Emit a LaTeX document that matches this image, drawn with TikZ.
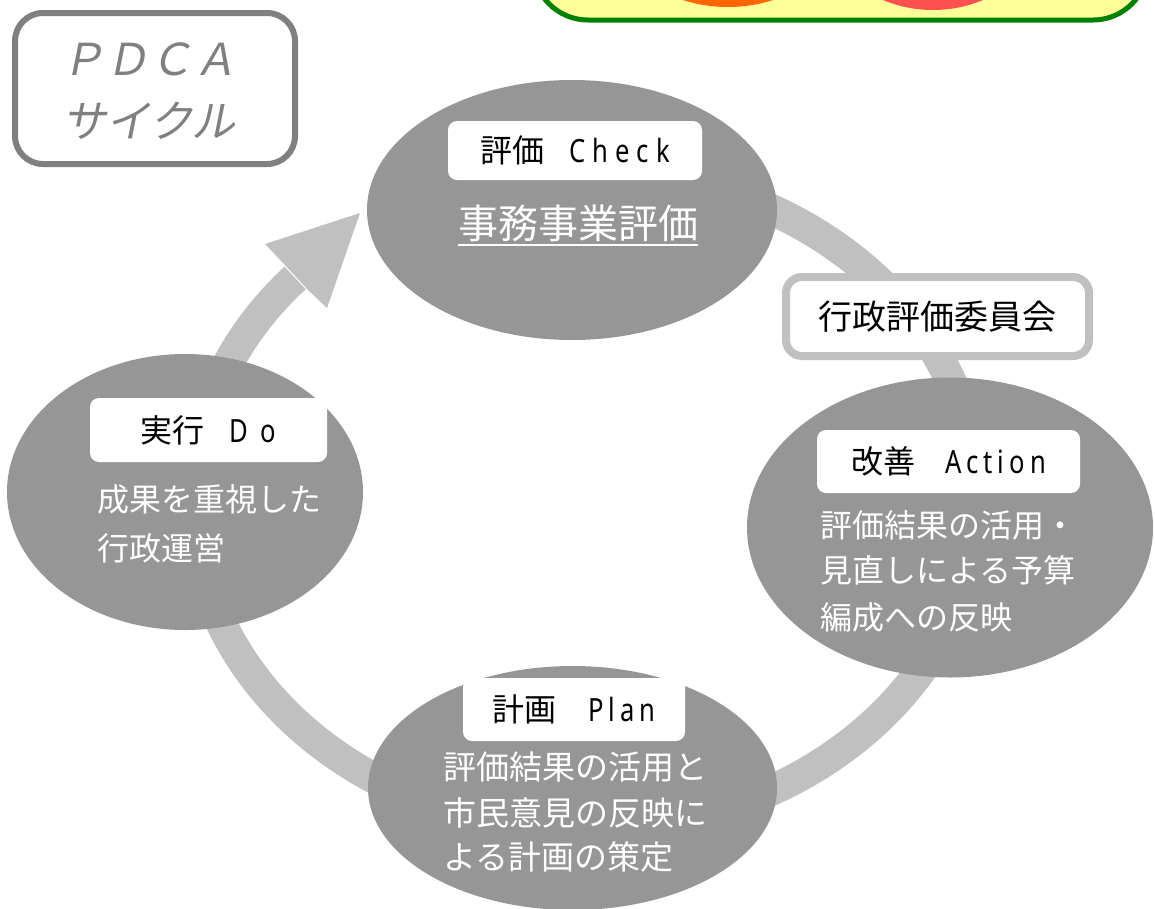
\documentclass[tikz,border=0pt]{standalone}
\usepackage{fontspec}
\usetikzlibrary{shapes.geometric}
\newfontfamily\jp{Noto Sans CJK JP}
\newfontfamily\jpit[FakeSlant=0.2]{Noto Sans CJK JP}
\newfontfamily\lat[FakeStretch=0.8]{Noto Sans}
\definecolor{ringc}{HTML}{C0C0C0}
\definecolor{blobc}{HTML}{969696}
\definecolor{pdcag}{HTML}{808080}
\definecolor{ylw}{HTML}{FFFF99}
\definecolor{grn}{HTML}{008000}
\definecolor{orng}{HTML}{FF6600}
\definecolor{rd}{HTML}{FF5050}
\newcommand\lgk[1]{\kern#1pt\relax}
\begin{document}
\begin{tikzpicture}[x=1pt,y=-1pt,
 blob/.style={ellipse, fill=blobc, draw=none, inner sep=0pt},
 lbl/.style={rectangle, rounded corners=9pt, fill=white, inner sep=0pt, font=\fontsize{32}{38}\selectfont\jp, text=black},
 body/.style={anchor=base west, inner sep=0pt, text=white, font=\fontsize{32}{38}\selectfont\jp},
 pdcatxt/.style={anchor=base, inner sep=0pt, text=pdcag, font=\fontsize{44}{50}\selectfont\jpit},
 ringline/.style={draw=ringc, line width=31pt},
]
\useasboundingbox (0,0) rectangle (1155,908);
\clip (0,0) rectangle (1155,908);

% top yellow box (cropped)
\node[draw=grn, line width=5pt, fill=ylw, rounded corners=55pt, minimum width=615pt, minimum height=140pt, inner sep=0pt] (topbox) at (840.5,-50) {};
\node[circle, fill=orng, minimum size=296pt, inner sep=0pt] (oc) at (728,-141) {};
\node[circle, fill=rd, minimum size=260pt, inner sep=0pt] (rc) at (933,-120) {};

% PDCA title box
\node[draw=pdcag, line width=6pt, rounded corners=28pt, fill=white, minimum width=280pt, minimum height=151pt, inner sep=0pt] (pdca) at (155,88.5) {};
\node[pdcatxt] (pdca1) at (149,75) {ＰＤＣＡ};
\node[pdcatxt] (pdca2) at (149,137) {サイクル};

% ring (elliptic arc, centre (585,500)) ending in an arrow
\coordinate (ringstart) at (653.1,175.0);
\draw[ringline] (ringstart) arc[start angle=80, end angle=-222.3, x radius=392pt, y radius=330pt] coordinate (ringend);
\fill[ringc] (286.5,266.6) -- (265,244) -- (360,213) -- (327,308) -- (307.5,289.4) -- cycle;

% committee box
\node[draw=ringc, line width=8pt, fill=white, rounded corners=16pt, minimum width=303pt, minimum height=79pt, inner sep=0pt, font=\fontsize{34}{40}\selectfont\jp] (cmt) at (937.5,316.5) {行政評価委員会};

% ellipses
\node[blob, minimum width=410pt, minimum height=260pt] (chk) at (572,210) {};
\node[blob, minimum width=356pt, minimum height=276pt] (dob) at (185,492) {};
\node[blob, minimum width=406pt, minimum height=300pt] (act) at (950,527.5) {};
\node[blob, minimum width=409pt, minimum height=244pt] (pln) at (572.5,788) {};

% labels
\node[lbl, minimum width=254pt, minimum height=59pt] (chkl) at (575,150.5) {評価\hspace*{25pt}{\lat C\lgk{7}h\lgk{7}e\lgk{7}c\lgk{7}k}};
\node[lbl, minimum width=237pt, minimum height=64pt] (dol) at (208.5,430) {実行\hspace*{25pt}{\lat D\lgk{12}o}};
\node[lbl, minimum width=263pt, minimum height=63pt] (actl) at (948.5,461.5) {改善\hspace*{30pt}{\lat A\lgk{5}c\lgk{5}t\lgk{5}i\lgk{5}o\lgk{5}n}};
\node[lbl, minimum width=222pt, minimum height=63pt] (plnl) at (574,709.5) {計画\hspace*{32pt}{\lat P\lgk{5}l\lgk{5}a\lgk{5}n}};

% body texts
\node[body, font=\fontsize{40}{48}\selectfont\jp] (chkb) at (458,238) {事務事業評価};
\draw[white, line width=2.5pt] ([yshift=-7pt]chkb.base west) -- ([yshift=-7pt]chkb.base east);

\node[body] (dob1) at (97,511) {成果を重視した};
\node[body] (dob2) at (97,560) {行政運営};

\node[body] (actb1) at (820,537) {評価結果の活用・};
\node[body] (actb2) at (820,582) {見直しによる予算};
\node[body] (actb3) at (820,629) {編成への反映};

\node[body, font=\fontsize{33}{40}\selectfont\jp] (plnb1) at (443,779) {評価結果の活用と};
\node[body, font=\fontsize{33}{40}\selectfont\jp] (plnb2) at (443,825) {市民意見の反映に};
\node[body, font=\fontsize{33}{40}\selectfont\jp] (plnb3) at (443,869) {よる計画の策定};
\end{tikzpicture}
\end{document}
